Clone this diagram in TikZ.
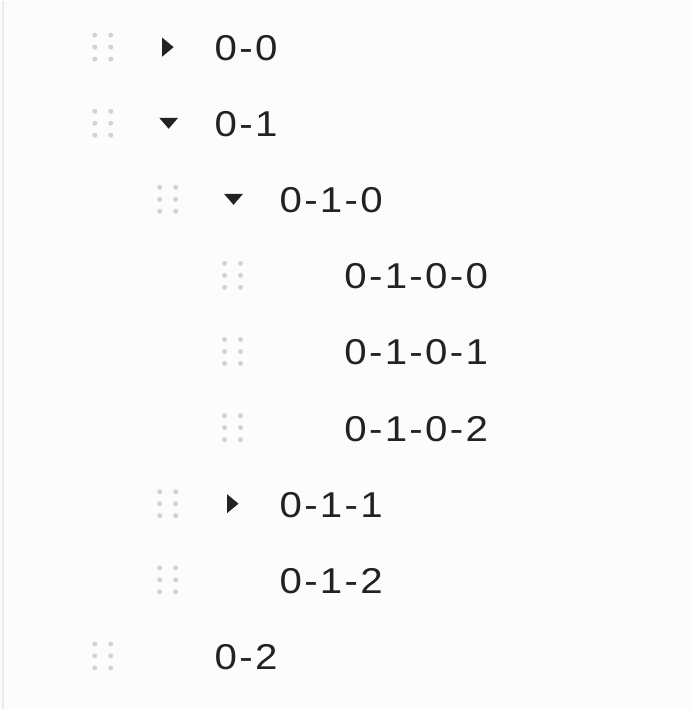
\documentclass[tikz,border=0pt]{standalone}
\usepackage{fontspec}
\setmainfont{Liberation Sans}[FakeStretch=1.12]
\usepackage{tikz}
\usetikzlibrary{positioning}
\definecolor{treetext}{HTML}{222222}
\definecolor{gripgray}{HTML}{D2D2D2}
\definecolor{panel}{HTML}{FCFCFC}
\definecolor{rule}{HTML}{EBEBEB}
\newcommand\tsep{\kern2.3pt-\kern2.3pt}

\begin{document}
\begin{tikzpicture}[x=1pt, y=-1pt,
  title/.style={anchor=base west, inner sep=0, text=treetext, font=\fontsize{36}{40}\selectfont},
  grip/.style={circle, fill=gripgray, inner sep=0, minimum size=5pt},
  caret/.style={fill=treetext}]
% Fondo
\fill[panel] (0,0) rectangle (692,710);
\draw[rule, line width=1.5pt] (3,0) -- (3,710);
% Filas: nivel / y / flecha (0 ninguna, 1 derecha, 2 abajo) / texto
\foreach \lv/\y/\car/\txt [count=\i] in {
  0/47.5/1/0\tsep0, 0/123.75/2/0\tsep1, 1/200/2/0\tsep1\tsep0,
  2/276.25/0/0\tsep1\tsep0\tsep0, 2/352.5/0/0\tsep1\tsep0\tsep1,
  2/428.75/0/0\tsep1\tsep0\tsep2,
  1/505/1/0\tsep1\tsep1, 1/581.25/0/0\tsep1\tsep2, 0/657.5/0/0\tsep2} {
  \node[title] (t\i) at (215+65*\lv, \y+12.5) {\txt};
  \foreach \dx [count=\j] in {0,16}
    \foreach \dy [count=\k] in {-12,0,12}
      \node[grip] (g\i\j\k) at (95+65*\lv+\dx, \y-1+\dy) {};
  \ifnum\car=1
    \coordinate (c\i) at (168+65*\lv, \y-1);
    \fill[caret] (c\i) +(-5.5,-9.5) -- +(6,0) -- +(-5.5,9.5) -- cycle;
  \fi
  \ifnum\car=2
    \coordinate (c\i) at (169+65*\lv, \y-1);
    \fill[caret] (c\i) +(-9.5,-5.5) -- +(9.5,-5.5) -- +(0,5.5) -- cycle;
  \fi
}
\end{tikzpicture}
\end{document}
